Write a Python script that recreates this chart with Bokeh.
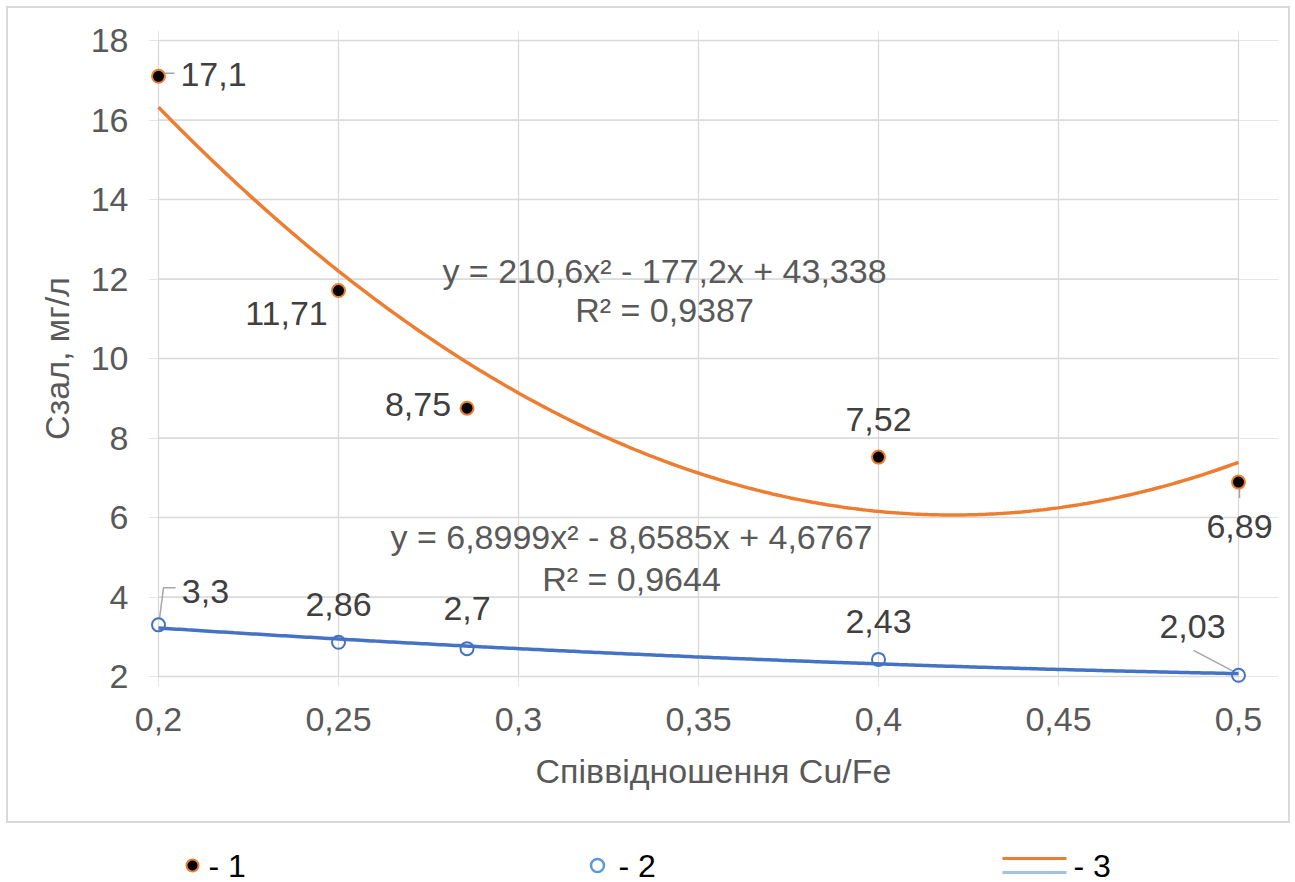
import numpy as np
from bokeh.plotting import figure
from bokeh.models import (ColumnDataSource, LabelSet, Label, FixedTicker,
                          CustomJSTickFormatter, Range1d)
from bokeh.layouts import column
from bokeh.embed import file_html
from bokeh.resources import INLINE
from bokeh.core.properties import value

# ---------------- data ----------------
ratio = [0.2, 0.25, 0.2857, 0.4, 0.5]
conc_1 = [17.1, 11.71, 8.75, 7.52, 6.89]
conc_2 = [3.3, 2.86, 2.7, 2.43, 2.03]
labels_1 = ["17,1", "11,71", "8,75", "7,52", "6,89"]
labels_2 = ["3,3", "2,86", "2,7", "2,43", "2,03"]
trend_coef_1 = [210.6, -177.2, 43.338]
trend_coef_2 = [6.8999, -8.6585, 4.6767]
eq_1 = "y = 210,6x² - 177,2x + 43,338"
r2_1 = "R² = 0,9387"
eq_2 = "y = 6,8999x² - 8,6585x + 4,6767"
r2_2 = "R² = 0,9644"
x_ticks = [0.2, 0.25, 0.3, 0.35, 0.4, 0.45, 0.5]
y_ticks = [2, 4, 6, 8, 10, 12, 14, 16, 18]
legend_names = ["- 1", "- 2", "- 3"]
x_title = "Співвідношення Cu/Fe"
y_title = "Сзал, мг/л"

# ---------------- style ----------------
FONT = "Liberation Sans"
FS = "34px"
ORANGE = "#ED7D31"
BLUE = "#4472C4"
LIGHTBLUE = "#5B9BD5"
GRID = "#D9D9D9"
TICKCOL = "#595959"
LABCOL = "#404040"

W, H_MAIN, H_LEG = 1295, 826, 56
FR_L, FR_R, FR_T, FR_B = 158, 1238, 40, 676   # plot area for 0.2..0.5 / 18..2
PADL, PADR, PADT, PADB = 10, 40, 10, 10       # extra frame so edge marks are not clipped
xmin, xmax = x_ticks[0], x_ticks[-1]
ymin, ymax = y_ticks[0], y_ticks[-1]
kx = (FR_R - FR_L) / (xmax - xmin)   # px per unit
ky = (FR_B - FR_T) / (ymax - ymin)
BL, BR = FR_L - PADL, W - FR_R - PADR

p = figure(width=W, height=H_MAIN, output_backend="svg", toolbar_location=None,
           x_range=Range1d(xmin - PADL / kx, xmax + PADR / kx),
           y_range=Range1d(ymin - PADB / ky, ymax + PADT / ky),
           min_border_left=BL, min_border_right=BR,
           min_border_top=FR_T - PADT, min_border_bottom=H_MAIN - FR_B - PADB)
p.outline_line_color = None
p.background_fill_color = "white"
p.border_fill_color = None
g = "linear-gradient(#D9D9D9,#D9D9D9)"
p.styles = {"background": (f"{g} 6px 6px / 1284px 2px no-repeat, "
                           f"{g} 6px 821px / 1284px 2px no-repeat, "
                           f"{g} 6px 6px / 2px 817px no-repeat, "
                           f"{g} 1288px 6px / 2px 817px no-repeat, white")}

# grid lines limited to the plot area
p.segment(x0=x_ticks, x1=x_ticks, y0=[ymin] * len(x_ticks), y1=[ymax] * len(x_ticks),
          line_color=GRID, line_width=1.3)
p.segment(x0=[xmin] * len(y_ticks), x1=[xmax] * len(y_ticks), y0=y_ticks, y1=y_ticks,
          line_color=GRID, line_width=1.3)

# axes
for ax in (p.xaxis[0], p.yaxis[0]):
    ax.axis_line_color = None
    ax.major_tick_line_color = None
    ax.minor_tick_line_color = None
    ax.major_label_text_font = FONT
    ax.major_label_text_font_size = FS
    ax.major_label_text_color = TICKCOL
    ax.axis_label_text_font = FONT
    ax.axis_label_text_font_size = FS
    ax.axis_label_text_font_style = "normal"
    ax.axis_label_text_color = TICKCOL
p.xaxis.ticker = FixedTicker(ticks=x_ticks)
p.yaxis.ticker = FixedTicker(ticks=y_ticks)
fmt = CustomJSTickFormatter(code="return String(Math.round(tick*100)/100).replace('.', ',');")
p.xaxis.formatter = fmt
p.yaxis.formatter = fmt
p.xaxis.axis_label = x_title
p.yaxis.axis_label = y_title
p.xaxis.major_label_standoff = 5 + PADB
p.xaxis.axis_label_standoff = 18
p.yaxis.major_label_standoff = 4 + PADL
p.yaxis.axis_label_standoff = 12

# trend lines
xs = np.linspace(xmin, xmax, 300)
p.line(xs, np.polyval(trend_coef_1, xs), line_color=ORANGE, line_width=3.5)
p.line(xs, np.polyval(trend_coef_2, xs), line_color=BLUE, line_width=3.5)

# leader lines (pixel offsets relative to data points, screen down positive)
def leader(xv, yv, pts):
    return [xv + dx / kx for dx, dy in pts], [yv - dy / ky for dx, dy in pts]

leaders = [
    leader(ratio[0], conc_1[0], [(2, -3), (16, -3)]),
    leader(ratio[4], conc_1[4], [(1, 6), (1, 16)]),
    leader(ratio[0], conc_2[0], [(1, -6), (5, -37), (17, -37)]),
    leader(ratio[4], conc_2[4], [(-5, -4), (-45, -25)]),
]
p.multi_line(xs=[l[0] for l in leaders], ys=[l[1] for l in leaders],
             line_color="#A6A6A6", line_width=1.5)

# markers
p.scatter(ratio, conc_1, marker="circle", size=13, fill_color="black",
          line_color=ORANGE, line_width=2)
p.scatter(ratio, conc_2, marker="circle", size=13, fill_color=None,
          line_color=BLUE, line_width=2)

# data labels (offsets in px, y up)
off1_x = [55, -52, -49, 0, 1]
off1_y = [2, -23, 4, 38, -44]
off2_x = [47, 0, 0, 0, -46]
off2_y = [33, 38, 40, 38, 49]
src_lab = ColumnDataSource(dict(x=ratio + ratio, y=conc_1 + conc_2, t=labels_1 + labels_2,
                                dx=off1_x + off2_x, dy=off1_y + off2_y))
p.add_layout(LabelSet(x="x", y="y", text="t", source=src_lab, x_offset="dx", y_offset="dy",
                      text_align="center", text_baseline="middle",
                      text_font=value(FONT), text_font_size=FS, text_color=LABCOL))

# equations
eq_x1 = xmin + (664 - FR_L) / kx
eq_x2 = xmin + (631 - FR_L) / kx
for txt, xx, yy in [(eq_1, eq_x1, ymax - (270 - FR_T) / ky),
                    (r2_1, eq_x1, ymax - (309 - FR_T) / ky),
                    (eq_2, eq_x2, ymax - (536 - FR_T) / ky),
                    (r2_2, eq_x2, ymax - (578 - FR_T) / ky)]:
    p.add_layout(Label(x=xx, y=yy, text=txt, text_align="center", text_baseline="middle",
                       text_font=FONT, text_font_size=FS, text_color=TICKCOL))

# ---------------- legend (below the chart box) ----------------
lg = figure(width=W, height=H_LEG, output_backend="svg", toolbar_location=None,
            x_range=Range1d(BL, W - BR), y_range=Range1d(H_LEG, 0),
            min_border_left=BL, min_border_right=BR,
            min_border_top=0, min_border_bottom=0)
lg.axis.visible = False
lg.grid.visible = False
lg.outline_line_color = None
lg.background_fill_color = "white"
lg.border_fill_color = "white"

ly = 865 - H_MAIN
lg.scatter([192], [ly], marker="circle", size=12, fill_color="black",
           line_color=ORANGE, line_width=2)
lg.scatter([597], [ly], marker="circle", size=13, fill_color=None,
           line_color=LIGHTBLUE, line_width=2.5)
lg.segment([1002], [ly - 7], [1066], [ly - 7], line_color=ORANGE, line_width=3)
lg.segment([1002], [ly + 7], [1066], [ly + 7], line_color="#9DC3E6", line_width=3)
lg.text([208, 618, 1073], [ly] * 3, text=legend_names, text_font=value(FONT),
        text_font_size="32px", text_color="black", text_baseline="middle", text_align="left")

layout = column(p, lg, spacing=0)
open("out.html", "w").write(file_html(layout, INLINE))
